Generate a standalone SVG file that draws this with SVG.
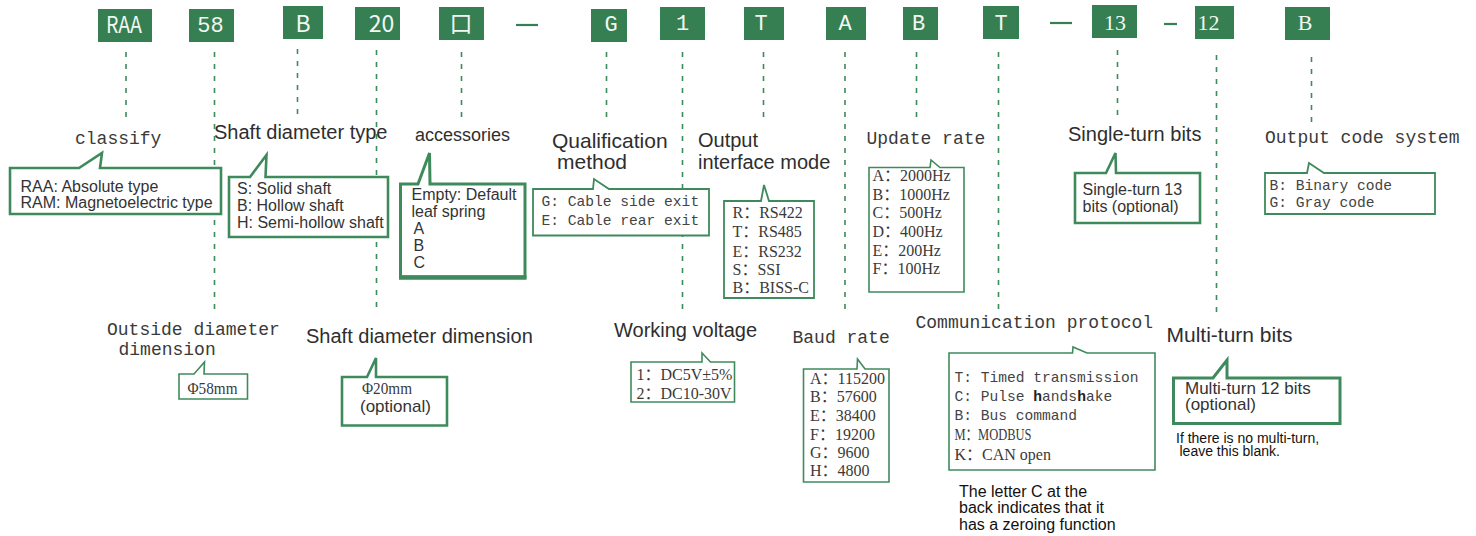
<svg xmlns="http://www.w3.org/2000/svg" width="1476" height="536" viewBox="0 0 1476 536">
<style>
.code{fill:#357f52}
.ct{fill:#f2f7f3;text-anchor:middle}
.cs{font-family:"Noto Sans CJK SC","Liberation Sans",sans-serif;font-size:23px}
.cm{font-family:"Liberation Mono",monospace;font-size:22px}
.cr{font-family:"Liberation Serif",serif;font-size:22px}
.dash{stroke:#3d8b5c;stroke-width:1.6;stroke-dasharray:5 7;fill:none}
.sep{stroke:#357f52;stroke-width:2.2}
.co{fill:#fff;stroke:#3f8a5d;stroke-width:1.8;stroke-linejoin:miter}
.cot{stroke-width:2.6}
.lm{font-family:"Liberation Mono",monospace;font-size:18px;fill:#3a3a3a}
.ls{font-family:"Liberation Sans",Arial,sans-serif;font-size:20px;fill:#2e2e2e}
.ts{font-family:"Liberation Sans",Arial,sans-serif;font-size:16px;fill:#333}
.tm{font-family:"Liberation Mono",monospace;font-size:14.6px;fill:#444}
.tr{font-family:"Liberation Serif","Noto Sans CJK SC",serif;font-size:16px;fill:#3a3a3a}
</style>

<g id="connectors">
<line class="dash" x1="126" y1="52" x2="126" y2="120"/>
<line class="dash" x1="214.5" y1="52" x2="214.5" y2="313"/>
<line class="dash" x1="297.5" y1="49" x2="297.5" y2="117"/>
<line class="dash" x1="376.5" y1="50" x2="376.5" y2="311"/>
<line class="dash" x1="461.5" y1="52" x2="461.5" y2="119"/>
<line class="dash" x1="606.5" y1="52" x2="606.5" y2="120"/>
<line class="dash" x1="682.5" y1="52" x2="682.5" y2="313"/>
<line class="dash" x1="763.5" y1="52" x2="763.5" y2="120"/>
<line class="dash" x1="845" y1="52" x2="845" y2="313"/>
<line class="dash" x1="916.5" y1="52" x2="916.5" y2="120"/>
<line class="dash" x1="998.5" y1="52" x2="998.5" y2="311"/>
<line class="dash" x1="1117.5" y1="50" x2="1117.5" y2="117"/>
<line class="dash" x1="1216.5" y1="55" x2="1216.5" y2="317"/>
<line class="dash" x1="1311.5" y1="57" x2="1311.5" y2="126"/>
</g>

<g id="separators">
<line class="sep" x1="516" y1="25" x2="538" y2="25"/>
<line class="sep" x1="1050" y1="23" x2="1072" y2="23"/>
<line class="sep" x1="1164" y1="24" x2="1177" y2="24"/>
</g>

<g id="code-RAA"><rect class="code" x="98" y="9" width="54" height="33"/><text class="ct cs" x="124" y="33" textLength="36" lengthAdjust="spacingAndGlyphs">RAA</text></g>
<g id="code-58"><rect class="code" x="189" y="9" width="45" height="33"/><text class="ct cm" x="210.5" y="32">58</text></g>
<g id="code-B1"><rect class="code" x="283" y="6" width="40" height="33"/><text class="ct cs" x="303" y="32">B</text></g>
<g id="code-20"><rect class="code" x="355" y="7" width="45" height="33"/><text class="ct cs" x="381.5" y="32">20</text></g>
<g id="code-box"><rect class="code" x="439" y="7" width="45" height="33"/><text class="ct cs" x="461" y="32">口</text></g>
<g id="code-G"><rect class="code" x="591" y="9" width="36" height="33"/><text class="ct cm" x="611" y="31">G</text></g>
<g id="code-1"><rect class="code" x="660" y="7" width="45" height="33"/><text class="ct cm" x="682.5" y="30">1</text></g>
<g id="code-T1"><rect class="code" x="744" y="7" width="40" height="33"/><text class="ct cm" x="761" y="30">T</text></g>
<g id="code-A"><rect class="code" x="826" y="7" width="40" height="33"/><text class="ct cm" x="845" y="30">A</text></g>
<g id="code-B2"><rect class="code" x="903" y="7" width="35" height="33"/><text class="ct cm" x="918.5" y="30">B</text></g>
<g id="code-T2"><rect class="code" x="983" y="6" width="36" height="33"/><text class="ct cm" x="1001" y="29.5">T</text></g>
<g id="code-13"><rect class="code" x="1092" y="5" width="45" height="33"/><text class="ct cr" x="1115" y="30">13</text></g>
<g id="code-12"><rect class="code" x="1195" y="6" width="39" height="33"/><text class="ct cr" x="1208.5" y="30">12</text></g>
<g id="code-B3"><rect class="code" x="1285" y="7" width="45" height="33"/><text class="ct cr" x="1305" y="30">B</text></g>

<g id="classify">
<text class="lm" x="75" y="144">classify</text>
<path class="co cot" d="M10,168 H79 L102,153 L100,168 H221 V214 H10 Z"/>
<text class="ts" x="20.5" y="192">RAA: Absolute type</text>
<text class="ts" x="20.5" y="207.5">RAM: Magnetoelectric type</text>
</g>

<g id="shaft-type">
<text class="ls" x="214" y="139">Shaft diameter type</text>
<path class="co cot" d="M229,177 H250 L266.5,155 L265.5,177 H388 V237 H229 Z"/>
<text class="ts" x="237" y="194">S: Solid shaft</text>
<text class="ts" x="237" y="210.5">B: Hollow shaft</text>
<text class="ts" x="237" y="227.5">H: Semi-hollow shaft</text>
</g>

<g id="accessories">
<text class="ls" x="415" y="141" style="font-size:18px">accessories</text>
<path class="co" style="stroke-width:3" d="M400.5,184 H418 L429.5,153 L430,184 H525 V277 H400.5 Z"/>
<line x1="399" y1="277.5" x2="526.5" y2="277.5" style="stroke:#3f8a5d;stroke-width:4.5"/>
<text class="ts" x="411.5" y="200">Empty: Default</text>
<text class="ts" x="411.5" y="217">leaf spring</text>
<text class="ts" x="413.5" y="234">A</text>
<text class="ts" x="413.5" y="251">B</text>
<text class="ts" x="413.5" y="268">C</text>
</g>

<g id="qualification">
<text class="ls" x="552" y="147.5" style="font-size:21px">Qualification</text>
<text class="ls" x="557" y="169" style="font-size:21px">method</text>
<path class="co" d="M533,189 H593 L594,179 L609,189 H709 V235.5 H533 Z"/>
<text class="tm" x="541.5" y="205.5">G: Cable side exit</text>
<text class="tm" x="541.5" y="225">E: Cable rear exit</text>
</g>

<g id="output-interface">
<text class="ls" x="698" y="146.5">Output</text>
<text class="ls" x="698" y="169">interface mode</text>
<path class="co" d="M724,201 H761 L764,185 L769,201 H814 V298 H724 Z"/>
<text class="tr" x="732.5" y="218">R：RS422</text>
<text class="tr" x="732.5" y="237">T：RS485</text>
<text class="tr" x="732.5" y="256.5">E：RS232</text>
<text class="tr" x="732.5" y="274.5">S：SSI</text>
<text class="tr" x="732.5" y="293">B：BISS-C</text>
</g>

<g id="update-rate">
<text class="lm" x="866.5" y="144">Update rate</text>
<path class="co" style="stroke-width:1.6" d="M869,167.5 H930 L931,160 L940,167.5 H964 V292 H869 Z"/>
<text class="tr" x="872.5" y="181">A：2000Hz</text>
<text class="tr" x="872.5" y="200">B：1000Hz</text>
<text class="tr" x="872.5" y="218">C：500Hz</text>
<text class="tr" x="872.5" y="237">D：400Hz</text>
<text class="tr" x="872.5" y="256">E：200Hz</text>
<text class="tr" x="872.5" y="273.5">F：100Hz</text>
</g>

<g id="single-turn">
<text class="ls" x="1068" y="141">Single-turn bits</text>
<path class="co cot" d="M1075,173 H1106 L1115.5,153 L1116,173 H1200 V223 H1075 Z"/>
<text class="ts" x="1082.5" y="195">Single-turn 13</text>
<text class="ts" x="1082.5" y="211.5">bits (optional)</text>
</g>

<g id="output-code">
<text class="lm" x="1265" y="143">Output code system</text>
<path class="co" d="M1265,173 H1307 L1309,163 L1324,173 H1435 V214 H1265 Z"/>
<text class="tm" x="1269.5" y="189.5">B: Binary code</text>
<text class="tm" x="1269.5" y="207">G: Gray code</text>
</g>

<g id="outside-diameter">
<text class="lm" x="107" y="335">Outside diameter</text>
<text class="lm" x="118.5" y="355">dimension</text>
<path class="co" style="stroke-width:1.6" d="M179,374 H194 L204.5,362 L204,374 H247.5 V399 H179 Z"/>
<text class="tr" x="187.5" y="393.5" textLength="50" lengthAdjust="spacingAndGlyphs">Φ58mm</text>
</g>

<g id="shaft-dimension">
<text class="ls" x="306" y="343">Shaft diameter dimension</text>
<path class="co cot" d="M342,377 H367 L376,358 L376,377 H447 V425.5 H342 Z"/>
<text class="tr" x="362" y="393.5" textLength="50" lengthAdjust="spacingAndGlyphs">Φ20mm</text>
<text class="ts" x="360" y="411.5" style="font-size:17px">(optional)</text>
</g>

<g id="working-voltage">
<text class="ls" x="614" y="337">Working voltage</text>
<path class="co" style="stroke-width:1.6" d="M631,362 H702 L702,353 L710.5,362 H734.5 V402 H631 Z"/>
<text class="tr" x="636.5" y="379.5">1：DC5V±5%</text>
<text class="tr" x="636.5" y="399">2：DC10-30V</text>
</g>

<g id="baud-rate">
<text class="lm" x="792.5" y="343">Baud rate</text>
<path class="co" style="stroke-width:1.6" d="M803.5,369 H857 L857.5,359 L865,369 H889 V482 H803.5 Z"/>
<text class="tr" x="810" y="383.5">A：115200</text>
<text class="tr" x="810" y="402">B：57600</text>
<text class="tr" x="810" y="420.5">E：38400</text>
<text class="tr" x="810" y="439.5">F：19200</text>
<text class="tr" x="810" y="457.5">G：9600</text>
<text class="tr" x="810" y="476">H：4800</text>
</g>

<g id="communication-protocol">
<text class="lm" x="915.5" y="328">Communication protocol</text>
<path class="co" style="stroke-width:1.6" d="M949,353 H1072.5 L1073,347 L1087,353 H1155 V470 H949 Z"/>
<text class="tm" x="954.5" y="381.5">T: Timed transmission</text>
<text class="tm" x="954.5" y="400.5">C: Pulse <tspan font-weight="bold" fill="#222">h</tspan>ands<tspan font-weight="bold" fill="#222">h</tspan>ake</text>
<text class="tm" x="954.5" y="419.5">B: Bus command</text>
<text class="tr" x="954.5" y="440" textLength="77" lengthAdjust="spacingAndGlyphs">M：MODBUS</text>
<text class="tr" x="954.5" y="459.5">K：CAN open</text>
<text class="ts" x="959" y="497" style="fill:#111">The letter C at the</text>
<text class="ts" x="959" y="513" style="fill:#111">back indicates that it</text>
<text class="ts" x="959" y="529.5" style="fill:#111">has a zeroing function</text>
</g>

<g id="multi-turn">
<text class="ls" x="1166.5" y="342" style="font-size:21px">Multi-turn bits</text>
<path class="co" style="stroke-width:3" d="M1173.5,378 H1213 L1227,360 L1227,378 H1340 V423.5 H1173.5 Z"/>
<text class="ts" x="1185" y="393.5" style="font-size:17px">Multi-turn 12 bits</text>
<text class="ts" x="1185" y="410" style="font-size:17px">(optional)</text>
<text class="ts" x="1176" y="442.5" style="font-size:14px;fill:#111">If there is no multi-turn,</text>
<text class="ts" x="1179.5" y="456" style="font-size:14px;fill:#111">leave this blank.</text>
</g>
</svg>
